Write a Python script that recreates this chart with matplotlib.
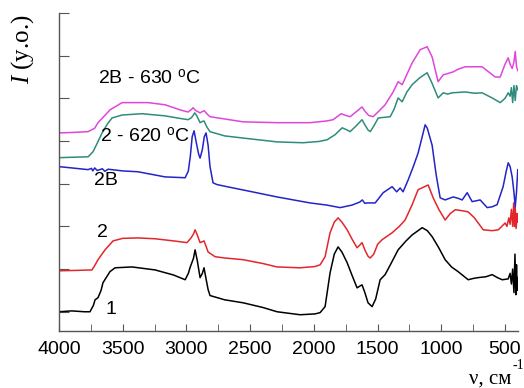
import matplotlib
matplotlib.use('Agg')
import matplotlib.pyplot as plt
from matplotlib.ticker import MultipleLocator, NullFormatter

plt.rcParams['font.family'] = ['Liberation Sans', 'DejaVu Sans']
plt.rcParams['mathtext.fontset'] = 'custom'
plt.rcParams['mathtext.rm'] = 'Liberation Serif'
plt.rcParams['mathtext.it'] = 'Liberation Serif:italic'

# спектр 1 (черный)
nu_1 = [4000, 3900, 3800, 3757, 3730, 3717, 3694, 3670, 3655, 3600, 3560, 3427, 3246, 3100,
        3010, 2985, 2970, 2945, 2932, 2915, 2893, 2875, 2862, 2848, 2830, 2815, 2700, 2555,
        2400, 2289, 2108, 1990, 1951, 1912, 1873, 1840, 1810, 1780, 1739, 1700, 1661, 1640,
        1622, 1600, 1575, 1543, 1515, 1480, 1441, 1400, 1339, 1280, 1229, 1150, 1110, 1072,
        1020, 970, 920, 868, 789, 750, 711, 650, 601, 560, 522, 475, 460, 450, 440, 430,
        422, 415, 410, 405, 400]
I_1 = [0.0, 0.02, 0.0, 0.0, 0.15, 0.28, 0.33, 0.5, 0.68, 0.94, 1.03, 1.05, 0.98, 0.86,
       0.75, 0.9, 1.05, 1.25, 1.45, 1.2, 0.8, 0.9, 1.03, 0.8, 0.52, 0.38, 0.28, 0.21,
       0.1, 0.0, -0.07, -0.05, -0.02, 0.12, 0.91, 1.35, 1.52, 1.4, 1.15, 0.85, 0.56, 0.6,
       0.63, 0.45, 0.21, 0.12, 0.3, 0.75, 0.87, 1.1, 1.45, 1.65, 1.8, 1.97, 1.9, 1.76,
       1.5, 1.22, 1.05, 0.94, 0.75, 0.78, 0.8, 0.82, 0.87, 0.8, 0.75, 0.77, 0.9, 0.65, 1.0, 0.45,
       1.35, 0.4, 1.1, 0.5, 0.8]

# спектр 2 (красный)
nu_2 = [4000, 3850, 3741, 3720, 3694, 3639, 3576, 3500, 3380, 3246, 3100, 2995, 2964, 2945,
        2932, 2915, 2893, 2875, 2862, 2848, 2830, 2775, 2700, 2555, 2400, 2289, 2108, 1990,
        1951, 1912, 1873, 1840, 1810, 1780, 1739, 1700, 1661, 1640, 1622, 1600, 1575, 1558,
        1530, 1500, 1464, 1386, 1330, 1284, 1230, 1182, 1103, 1064, 1020, 970, 930, 891,
        840, 789, 740, 671, 600, 553, 499, 485, 470, 460, 450, 440, 432, 425, 420, 413, 405, 400]
I_2 = [0.96, 0.97, 0.98, 1.08, 1.22, 1.45, 1.66, 1.72, 1.73, 1.71, 1.66, 1.62, 1.73, 1.82,
       1.92, 1.8, 1.62, 1.64, 1.66, 1.55, 1.40, 1.29, 1.26, 1.22, 1.13, 1.05, 1.03, 1.06,
       1.10, 1.29, 1.85, 2.1, 2.2, 2.1, 1.92, 1.7, 1.5, 1.56, 1.62, 1.45, 1.3, 1.26,
       1.35, 1.58, 1.69, 1.85, 2.0, 2.15, 2.5, 2.86, 2.97, 2.67, 2.4, 2.15, 2.3, 2.39,
       2.37, 2.34, 2.2, 1.92, 1.9, 1.92, 2.08, 2.0, 2.2, 2.05, 2.4, 2.0, 2.55, 2.0, 2.45, 1.95, 2.3, 2.1]

# спектр 2B (синий)
nu_2B = [4000, 3900, 3772, 3745, 3735, 3720, 3700, 3660, 3640, 3615, 3500, 3380, 3168, 3010,
         2985, 2970, 2955, 2940, 2925, 2905, 2893, 2875, 2860, 2846, 2830, 2815, 2791, 2760,
         2681, 2500, 2289, 2030, 1900, 1794, 1700, 1640, 1620, 1600, 1582, 1519, 1456, 1386,
         1350, 1323, 1300, 1260, 1220, 1182, 1150, 1127, 1110, 1072, 1040, 1009, 970, 907,
         870, 836, 797, 758, 695, 640, 600, 562, 515, 490, 475, 460, 444, 430, 420, 410, 400]
I_2B = [3.40, 3.37, 3.33, 3.36, 3.30, 3.37, 3.31, 3.35, 3.29, 3.34, 3.30, 3.28, 3.16, 3.14,
        3.3, 3.63, 4.1, 4.24, 4.0, 3.7, 3.6, 3.8, 4.1, 4.19, 3.9, 3.4, 3.02, 2.98,
        2.93, 2.82, 2.69, 2.55, 2.5, 2.44, 2.5, 2.57, 2.62, 2.54, 2.55, 2.55, 2.79, 2.93,
        2.81, 2.9, 2.81, 3.09, 3.4, 3.72, 4.1, 4.38, 4.3, 3.9, 3.2, 2.67, 2.62, 2.69,
        2.66, 2.62, 2.79, 2.58, 2.62, 2.44, 2.46, 2.51, 2.93, 3.3, 3.49, 3.4, 3.16, 2.8, 2.46, 2.8, 3.33]

# 2 - 620 C (бирюзовый)
nu_620 = [4000, 3900, 3772, 3733, 3700, 3662, 3620, 3584, 3505, 3348, 3168, 3050, 2987, 2960,
          2948, 2935, 2920, 2893, 2875, 2862, 2840, 2815, 2700, 2555, 2289, 2085, 1960, 1896,
          1833, 1778, 1740, 1716, 1670, 1622, 1600, 1575, 1558, 1530, 1495, 1401, 1370, 1339,
          1307, 1270, 1229, 1170, 1111, 1072, 1025, 985, 950, 915, 813, 740, 680, 601,
          538, 500, 475, 460, 450, 440, 430, 420, 410, 400]
I_620 = [3.61, 3.62, 3.63, 3.75, 3.95, 4.19, 4.4, 4.54, 4.61, 4.64, 4.59, 4.53, 4.5, 4.55,
         4.6, 4.66, 4.6, 4.43, 4.46, 4.47, 4.33, 4.22, 4.12, 4.07, 3.98, 3.96, 3.99, 4.03,
         4.15, 4.31, 4.26, 4.22, 4.35, 4.5, 4.38, 4.26, 4.22, 4.35, 4.54, 4.57, 4.75, 5.01,
         4.92, 5.15, 5.32, 5.48, 5.6, 5.35, 5.01, 5.13, 5.1, 5.13, 5.15, 5.12, 5.13, 5.01,
         4.9, 5.0, 5.13, 5.05, 5.25, 4.9, 5.3, 4.95, 5.3, 5.2]

# 2B - 630 C (пурпурный)
nu_630 = [4000, 3900, 3772, 3720, 3694, 3640, 3600, 3505, 3301, 3168, 3050, 2987, 2960, 2948,
          2930, 2893, 2870, 2860, 2840, 2815, 2555, 2289, 2030, 1900, 1849, 1786, 1750, 1716,
          1670, 1622, 1600, 1570, 1535, 1490, 1441, 1378, 1339, 1307, 1229, 1166, 1111, 1072,
          1025, 985, 907, 870, 813, 680, 620, 577, 538, 500, 475, 460, 444, 430, 420, 410, 400]
I_630 = [4.19, 4.2, 4.22, 4.3, 4.43, 4.6, 4.73, 4.9, 4.9, 4.85, 4.73, 4.68, 4.74, 4.78,
         4.72, 4.66, 4.7, 4.71, 4.64, 4.57, 4.45, 4.43, 4.43, 4.47, 4.5, 4.64, 4.6, 4.57,
         4.68, 4.8, 4.7, 4.6, 4.57, 4.7, 4.85, 5.15, 5.39, 5.32, 5.83, 6.14, 6.21, 5.97,
         5.39, 5.55, 5.62, 5.68, 5.74, 5.74, 5.6, 5.5, 5.5, 5.8, 5.95, 5.8, 5.7, 5.85, 6.1, 5.75, 5.65]

x_ticks = [4000, 3500, 3000, 2500, 2000, 1500, 1000, 500]
labels = ['1', '2', '2B', '2 - 620 $^{\\mathregular{o}}$C', '2B - 630 $^{\\mathregular{o}}$C']

fig = plt.figure(figsize=(5.24, 3.88), dpi=100)
ax = fig.add_axes([0.1126, 0.147, 0.876, 0.8195])

ax.plot(nu_1, I_1, color='black', lw=1.1)
ax.plot(nu_2, I_2, color='#e3262c', lw=1.1)
ax.plot(nu_2B, I_2B, color='#2424c8', lw=1.1)
ax.plot(nu_620, I_620, color='#2f8c7c', lw=1.1)
ax.plot(nu_630, I_630, color='#e046dc', lw=1.1)

# подписи кривых
ax.text(3639, 0.05, labels[0], fontsize=14, ha='left', va='center')
ax.text(3702, 1.85, labels[1], fontsize=14, ha='left', va='center')
ax.text(3725, 3.07, labels[2], fontsize=14, ha='left', va='center')
ax.text(3678, 4.10, labels[3], fontsize=14, ha='left', va='center')
ax.text(3694, 5.48, labels[4], fontsize=14, ha='left', va='center')

ax.set_xlim(4000, 398)
ax.set_ylim(-0.45, 7.0)
ax.set_xticks(x_ticks)
ax.xaxis.set_minor_locator(MultipleLocator(250))
ax.yaxis.set_major_locator(MultipleLocator(1))
ax.yaxis.set_major_formatter(NullFormatter())

for s in ['top', 'right']:
    ax.spines[s].set_visible(False)
for s in ['left', 'bottom']:
    ax.spines[s].set_color('#555555')
    ax.spines[s].set_linewidth(1.0)

ax.tick_params(axis='x', which='both', direction='in', length=5, color='#555555',
               labelsize=14, pad=7)
ax.tick_params(axis='y', which='both', direction='in', length=7, color='#555555')

fig.text(0.044, 0.874, '$\\mathit{I}$ (y.o.)', rotation=90, fontsize=18,
         family='Liberation Serif', ha='center', va='center')
fig.text(0.935, 0.022, 'ν, см', fontsize=15, family='Liberation Serif',
         ha='center', va='center')
fig.text(0.989, 0.058, '-1', fontsize=10, family='Liberation Serif',
         ha='center', va='center')

fig.savefig('out.png', dpi=100)
